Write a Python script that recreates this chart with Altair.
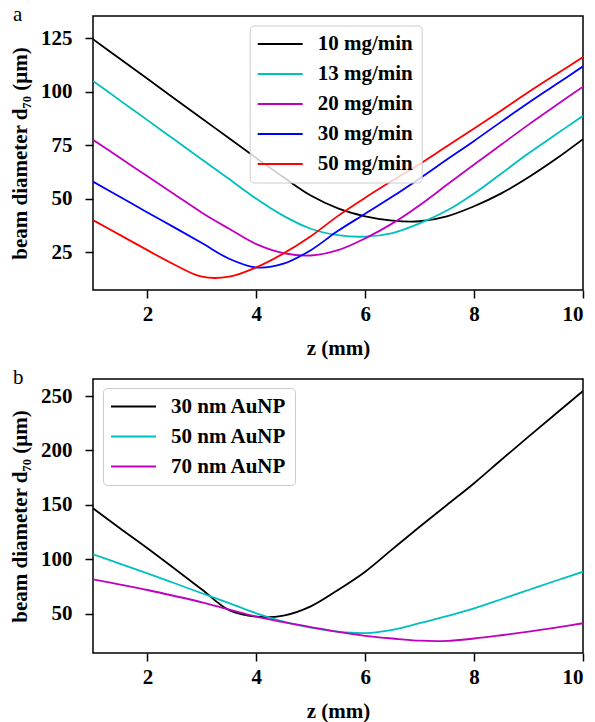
import altair as alt
import pandas as pd

z = [1.0, 1.5, 2.0, 2.5, 3.0, 3.5, 4.0, 4.5, 5.0, 5.5, 6.0, 6.5, 7.0, 7.5, 8.0, 8.5, 9.0, 9.5, 10.0]

top_names = ["10 mg/min", "13 mg/min", "20 mg/min", "30 mg/min", "50 mg/min"]
top_colors = ["#000000", "#00bfbf", "#bf00bf", "#0000ff", "#ff0000"]
d_10 = [124.5, 115.2, 106.0, 96.7, 87.5, 78.2, 69.0, 60.0, 51.5, 45.5, 41.8, 39.8, 39.5, 41.8, 46.5, 52.5, 60.0, 68.5, 77.8]
d_13 = [105.0, 95.8, 86.7, 77.5, 68.3, 59.2, 50.0, 42.0, 36.0, 33.0, 32.3, 34.0, 38.5, 44.5, 52.5, 61.8, 71.2, 80.0, 88.7]
d_20 = [77.5, 69.0, 60.5, 52.0, 43.5, 36.0, 28.8, 24.6, 23.5, 26.0, 31.5, 38.5, 47.0, 56.5, 66.0, 75.3, 84.6, 93.5, 102.3]
d_30 = [58.0, 50.8, 43.6, 36.5, 29.3, 22.0, 17.9, 19.7, 26.0, 35.0, 43.0, 51.0, 59.5, 68.3, 77.0, 86.0, 94.8, 103.3, 111.8]
d_50 = [40.0, 33.0, 26.0, 19.2, 13.6, 13.6, 18.0, 24.5, 32.5, 42.0, 50.5, 58.5, 66.2, 74.5, 82.8, 91.2, 99.8, 108.0, 116.1]

bot_names = ["30 nm AuNP", "50 nm AuNP", "70 nm AuNP"]
bot_colors = ["#000000", "#00bfbf", "#bf00bf"]
n_30 = [147.0, 128.5, 110.3, 91.5, 72.5, 53.5, 47.5, 48.5, 57.0, 72.0, 88.8, 109.5, 130.0, 150.0, 170.0, 191.5, 212.7, 233.7, 254.6]
n_50 = [104.8, 96.0, 87.3, 78.2, 69.0, 60.0, 50.6, 43.0, 37.5, 33.8, 32.5, 35.5, 41.5, 48.0, 55.2, 63.5, 72.0, 80.5, 88.8]
n_70 = [81.8, 77.0, 72.0, 66.5, 60.7, 54.0, 47.5, 42.5, 38.0, 33.5, 30.0, 27.5, 25.5, 25.3, 27.5, 30.5, 33.8, 37.5, 41.5]

x_ticks = [2, 4, 6, 8, 10]
top_yticks = [25, 50, 75, 100, 125]
bot_yticks = [50, 100, 150, 200, 250]

FONT = "Liberation Serif"
YTITLE = "beam diameter d\u2087\u2080 (\u03bcm)"


def long(names, series):
    rows = []
    for n, s in zip(names, series):
        for zi, v in zip(z, s):
            rows.append({"z": zi, "d": v, "series": n})
    return pd.DataFrame(rows)


def panel(df, names, colors, ydom, yticks, label, lx, ly):
    lines = alt.Chart(df).mark_line(strokeWidth=1.8, interpolate="catmull-rom", clip=True).encode(
        x=alt.X("z:Q", scale=alt.Scale(domain=[1, 10], nice=False, zero=False),
                axis=alt.Axis(values=x_ticks, title="z (mm)")),
        y=alt.Y("d:Q", scale=alt.Scale(domain=ydom, nice=False, zero=False),
                axis=alt.Axis(values=yticks, title=YTITLE)),
        color=alt.Color("series:N", scale=alt.Scale(domain=names, range=colors),
                        legend=alt.Legend(title=None, orient="none", legendX=lx, legendY=ly)),
    )
    tag = alt.Chart(pd.DataFrame({"t": [label]})).mark_text(
        font=FONT, fontSize=21, fontWeight="normal", color="black",
        align="left", baseline="alphabetic",
    ).encode(text="t:N", x=alt.value(-80), y=alt.value(5))
    return alt.layer(lines, tag).properties(width=490, height=274)


top = panel(long(top_names, [d_10, d_13, d_20, d_30, d_50]), top_names, top_colors,
            [7.4, 135.3], top_yticks, "a", 156.7, 9.5)
bot = panel(long(bot_names, [n_30, n_50, n_70]), bot_names, bot_colors,
            [14.2, 265.6], bot_yticks, "b", 10, 9)

chart = alt.vconcat(top, bot, spacing=7).resolve_scale(color="independent").properties(
    padding={"left": 0, "top": -5, "right": 0, "bottom": 0}
).configure_view(
    stroke="black", strokeWidth=1.5
).configure_axis(
    grid=False, domain=False,
    labelFont=FONT, labelFontSize=21, labelFontWeight="bold", labelColor="black",
    titleFont=FONT, titleFontSize=21, titleFontWeight="bold", titleColor="black",
    tickColor="black", tickWidth=1.5, tickSize=8,
).configure_axisX(
    labelPadding=5, titlePadding=13,
).configure_axisY(
    labelPadding=13, titlePadding=10,
).configure_legend(
    labelFont=FONT, labelFontSize=21, labelFontWeight="bold", labelColor="black",
    symbolType="M-1.105,0H3.632", symbolSize=361, symbolStrokeWidth=1.8,
    labelOffset=39, rowPadding=8, padding=8,
    strokeColor="#cccccc", fillColor="rgba(255,255,255,0.8)", cornerRadius=4,
)

chart.save("out.html", embed_options={"renderer": "svg", "actions": False})
